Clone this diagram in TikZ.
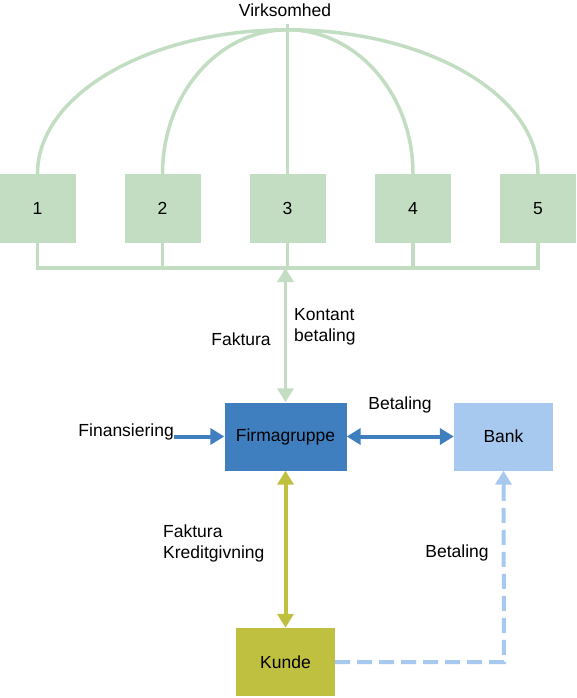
\documentclass[tikz,border=0pt]{standalone}
\usepackage{fontspec}
\setmainfont{Liberation Sans}
\usetikzlibrary{arrows.meta}
\definecolor{grn}{HTML}{C2DDC2}
\definecolor{blu}{HTML}{3F7FBF}
\definecolor{lblu}{HTML}{A7C9EF}
\definecolor{olv}{HTML}{C0C040}
\begin{document}
\begin{tikzpicture}[x=1pt,y=-1pt,
  every node/.style={font=\fontsize{17.5}{21}\selectfont, inner sep=0pt},
  gbox/.style={fill=grn, minimum width=76pt, minimum height=69pt},
  mbox/.style={minimum width=#1, minimum height=68pt},
  gline/.style={draw=grn, line width=3.5pt},
  tip/.style={-{Triangle[width=16pt,length=14pt]}},
  dtip/.style={{Triangle[width=16pt,length=14pt]}-{Triangle[width=16pt,length=14pt]}},
  lbl/.style={align=left}]
\useasboundingbox (0,0) rectangle (576,698);
% top boxes
\node[gbox] (b1) at (37.5,208.5) {1};
\node[gbox] (b2) at (162.5,208.5) {2};
\node[gbox] (b3) at (287.5,208.5) {3};
\node[gbox] (b4) at (413,208.5) {4};
\node[gbox] (b5) at (538,208.5) {5};
\node (virk) at (285,10) {Virksomhed};
\coordinate (bus) at (0,268);
\coordinate (topv) at (287.5,24);
% arcs
\draw[gline] (b1.north) arc[start angle=180,end angle=270,x radius=250,y radius=144];
\draw[gline] (b2.north) arc[start angle=180,end angle=270,x radius=125,y radius=144];
\draw[gline] (b4.north) arc[start angle=0,end angle=-90,x radius=125.5,y radius=144];
\draw[gline] (b5.north) arc[start angle=0,end angle=-90,x radius=250.5,y radius=144];
\draw[gline] (topv) -- (b3.north);
% bus
\draw[gline] (b1.south) -- (b1.south |- bus) -- (b5.south |- bus) -- (b5.south);
\draw[gline] (b2.south) -- (b2.south |- bus);
\draw[gline] (b3.south) -- (b3.south |- bus);
\draw[gline] (b4.south) -- (b4.south |- bus);
% main boxes
\node[mbox=122pt, fill=blu] (firm) at (285.5,436.5) {Firmagruppe};
\node[mbox=99pt, fill=lblu] (bank) at (503.5,436.5) {Bank};
\node[mbox=99pt, fill=olv] (kunde) at (285.5,662) {Kunde};
% arrows
\draw[gline, dtip] (firm.north |- bus) -- (firm.north);
\node (fak1) at (241,339) {Faktura};
\node[lbl, anchor=west] (kont) at (294,327) {Kontant\\betaling};
\node[anchor=east] (fin) at (174,432) {Finansiering};
\draw[draw=blu, line width=4pt, tip] (fin.east |- firm.west) -- (firm.west);
\draw[draw=blu, line width=4pt, dtip] (firm.east) -- (bank.west);
\node (bet1) at (400,405) {Betaling};
\draw[draw=olv, line width=4pt, dtip] (firm.south) -- (kunde.north);
\node[lbl, anchor=west] (fak2) at (163,543.5) {Faktura\\Kreditgivning};
\coordinate (corner) at (504,661);
\draw[draw=lblu, line width=4pt, dash pattern=on 15pt off 7pt] (kunde.east) -- (kunde.east -| corner) -- ([yshift=-14pt]bank.south);
\draw[draw=lblu, line width=4pt, tip] ([yshift=-15pt]bank.south) -- (bank.south);
\node (bet2) at (457,553) {Betaling};
\end{tikzpicture}
\end{document}
